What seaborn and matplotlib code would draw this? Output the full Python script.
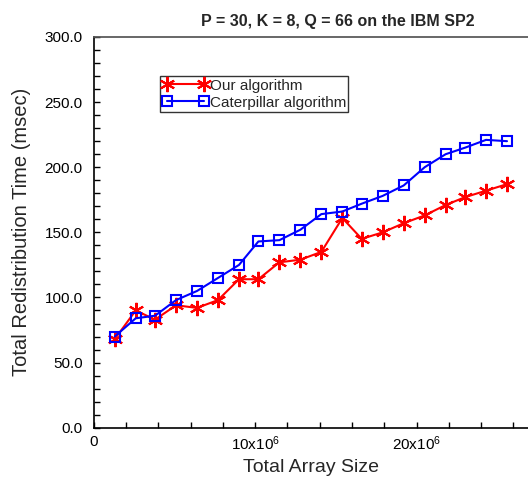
import matplotlib
matplotlib.use("Agg")
import matplotlib.pyplot as plt
import seaborn as sns
import pandas as pd
from matplotlib.ticker import MultipleLocator, FixedLocator, FixedFormatter

array_size = [1.3e6, 2.6e6, 3.8e6, 5.1e6, 6.4e6, 7.7e6, 9.0e6, 10.2e6, 11.5e6, 12.8e6,
              14.1e6, 15.4e6, 16.6e6, 17.9e6, 19.2e6, 20.5e6, 21.8e6, 23.0e6, 24.3e6, 25.6e6]
ours = [68, 90, 83, 94, 92, 98, 114, 114, 127, 129,
        135, 161, 145, 150, 157, 163, 171, 177, 182, 187]
caterpillar = [70, 84, 86, 98, 105, 115, 125, 143, 144, 152,
               164, 166, 172, 178, 186, 200, 210, 215, 221, 220]
series_names = ["Our algorithm", "Caterpillar algorithm"]
x_tick_vals = [0, 10e6, 20e6]
x_tick_labels = ["0", r"10x10$^6$", r"20x10$^6$"]

sns.set_theme(style="ticks")
plt.rcParams['font.family'] = ['Liberation Sans', 'DejaVu Sans']
plt.rcParams['mathtext.fontset'] = 'custom'
plt.rcParams['mathtext.rm'] = 'Liberation Sans'
plt.rcParams['mathtext.default'] = 'regular'

fig = plt.figure(figsize=(5.28, 4.84), dpi=100)
ax = fig.add_axes([0.1775, 0.1163, 0.8225, 0.8073])

df = pd.DataFrame({"x": array_size, "ours": ours, "cat": caterpillar})
sns.lineplot(data=df, x="x", y="ours", ax=ax, color="#ff0000", linewidth=1.5,
             label=series_names[0])
sns.lineplot(data=df, x="x", y="cat", ax=ax, color="#0000ff", linewidth=1.5,
             label=series_names[1])
l1, l2 = ax.get_lines()[:2]
l1.set_marker((6, 2, 0)); l1.set_markersize(11); l1.set_markeredgewidth(1.5)
l1.set_markeredgecolor("#ff0000"); l1.set_linestyle('-')
l2.set_marker("s"); l2.set_markersize(7); l2.set_markeredgewidth(1.5)
l2.set_markerfacecolor("none"); l2.set_markeredgecolor("#0000ff"); l2.set_linestyle('-')

ax.set_xlim(0, 26.9e6)
ax.set_ylim(0, 300)
ax.xaxis.set_major_locator(FixedLocator(x_tick_vals))
ax.xaxis.set_major_formatter(FixedFormatter(x_tick_labels))
ax.xaxis.set_minor_locator(MultipleLocator(2e6))
ax.yaxis.set_major_locator(MultipleLocator(50))
ax.yaxis.set_minor_locator(MultipleLocator(10))
ax.yaxis.set_major_formatter(matplotlib.ticker.FormatStrFormatter('%.1f'))
ax.tick_params(which='both', direction='in', length=4, width=1, colors='black', labelsize=11)
ax.tick_params(axis='x', pad=5)
ax.tick_params(axis='y', pad=8)
ax.spines['right'].set_visible(False)
ax.spines['top'].set_color('#555555')
for s in ['left', 'bottom']:
    ax.spines[s].set_color('black')
    ax.spines[s].set_linewidth(1.2)

ax.set_xlabel("Total Array Size", fontsize=14)
ax.set_ylabel("Total Redistribution Time (msec)", fontsize=14.5, labelpad=10)
ax.set_title("P = 30, K = 8, Q = 66 on the IBM SP2", fontsize=11.5, fontweight='bold',
             x=0.5625, pad=8)

leg = ax.legend(loc='upper left', bbox_to_anchor=(0.303, 0.842), bbox_transform=fig.transFigure,
                fontsize=11, frameon=True, fancybox=False, edgecolor='black', borderpad=0.15,
                handlelength=3.0, handletextpad=0.1, labelspacing=0.2, borderaxespad=0,
                numpoints=2)
leg.get_frame().set_linewidth(1.0)
for h, src in zip(leg.legend_handles, [l1, l2]):
    h.set_marker(src.get_marker()); h.set_markersize(src.get_markersize())
    h.set_markeredgewidth(1.5); h.set_markerfacecolor(src.get_markerfacecolor())
    h.set_markeredgecolor(src.get_markeredgecolor()); h.set_linestyle('-')

fig.savefig("out.png", dpi=100)
